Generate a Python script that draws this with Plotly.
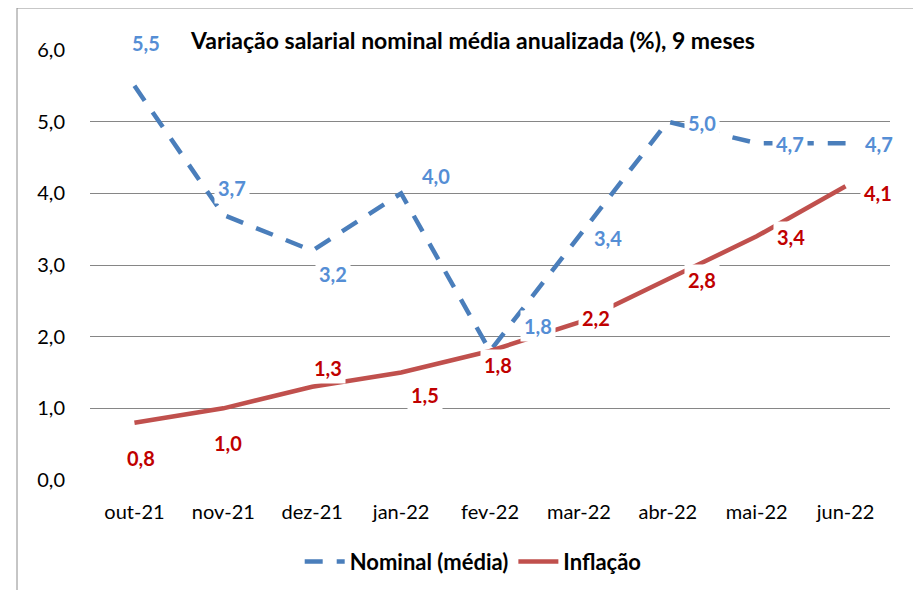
import plotly.graph_objects as go

# data
meses = ['out-21', 'nov-21', 'dez-21', 'jan-22', 'fev-22', 'mar-22', 'abr-22', 'mai-22', 'jun-22']
nominal = [5.5, 3.7, 3.2, 4.0, 1.8, 3.4, 5.0, 4.7, 4.7]
inflacao = [0.8, 1.0, 1.3, 1.5, 1.8, 2.2, 2.8, 3.4, 4.1]

titulo = 'Variação salarial nominal média anualizada (%), 9 meses'

# where each data label sits relative to its point (pixels, x right / y down)
nom_shift = [(12, -43), (9, -27), (21, 23), (35, -17), (48, -25), (29, 2), (34, 1), (33, 1), (33, 1)]
inf_shift = [(7, 35), (5, 35), (16, -19), (24, 22), (8, 14), (17, -4), (34, 1), (34, 1), (32, 7)]

AZUL = '#4A7EBB'
AZUL_TXT = '#558ED5'
VERM = '#C0504D'
VERM_TXT = '#C00000'
FONTE = 'Lato'


def fmt(v):
    return f'{v:.1f}'.replace('.', ',')


fig = go.Figure()
fig.add_trace(go.Scatter(x=meses, y=nominal, name='Nominal (média)', mode='lines',
                         line=dict(color=AZUL, width=4.5, dash='18px,14px'), cliponaxis=False))
fig.add_trace(go.Scatter(x=meses, y=inflacao, name='Inflação', mode='lines',
                         line=dict(color=VERM, width=4.5), cliponaxis=False))

anns = []
for serie, shifts, cor in [(nominal, nom_shift, AZUL_TXT), (inflacao, inf_shift, VERM_TXT)]:
    for m, v, (dx, dy) in zip(meses, serie, shifts):
        anns.append(dict(x=m, y=v, text=f'<b>{fmt(v)}</b>', showarrow=False,
                         xshift=dx, yshift=-dy, bgcolor='white', borderpad=3,
                         font=dict(family=FONTE, size=20, color=cor)))

anns.append(dict(x=0.4775, y=1.0233, xref='paper', yref='paper', text=f'<b>{titulo}</b>',
                 showarrow=False, xanchor='center', yanchor='middle',
                 font=dict(family=FONTE, size=23, color='black')))

# page body has an 8px margin, so the figure is 8px smaller than the window
fig.update_layout(
    width=913, height=582,
    margin=dict(l=82, r=31, t=42, b=110, autoexpand=False),
    plot_bgcolor='white', paper_bgcolor='white',
    separators=',.',
    font=dict(family=FONTE, size=20, color='black'),
    showlegend=True,
    legend=dict(orientation='h', x=0.479, xanchor='center', y=-0.19, yanchor='middle',
                font=dict(family=FONTE, size=22, color='black', weight='bold'),
                itemwidth=40, bgcolor='rgba(0,0,0,0)'),
    annotations=anns,
    shapes=[dict(type='rect', xref='paper', yref='paper', x0=-0.09125, x1=1.0369,
                 y0=-0.4, y1=1.0977, line=dict(color='#8C8C8C', width=1), layer='below')],
)
fig.update_xaxes(range=[-0.5, 8.5], showgrid=False, showline=False, zeroline=False,
                 ticks='outside', ticklen=14, tickcolor='rgba(0,0,0,0)',
                 tickfont=dict(family=FONTE, size=20))
fig.update_yaxes(range=[0, 6], tickvals=[0, 1, 2, 3, 4, 5, 6], tickformat='.1f',
                 showgrid=True, gridcolor='#868686', gridwidth=1.3,
                 zeroline=False, showline=False,
                 ticks='outside', ticklen=20, tickcolor='rgba(0,0,0,0)',
                 tickfont=dict(family=FONTE, size=20))

fig.write_html('out.html')
